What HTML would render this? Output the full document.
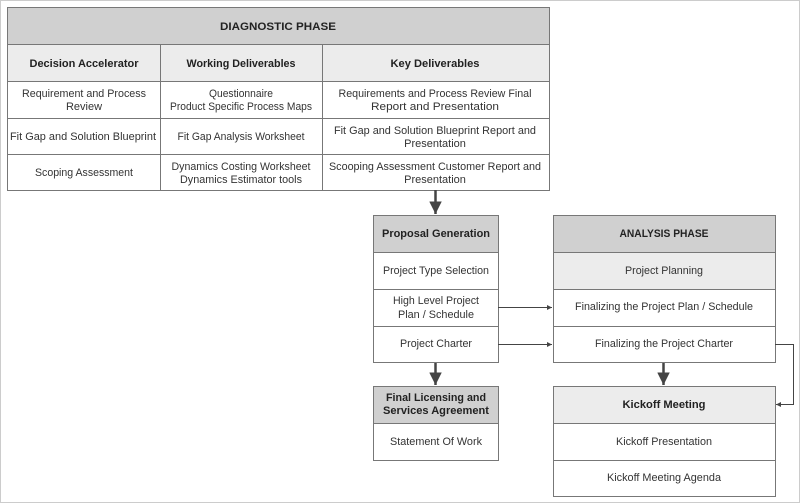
<!DOCTYPE html>
<html><head><style>
html,body{margin:0;padding:0;background:#fff}
svg{display:block}
text{font-family:"Liberation Sans",sans-serif;font-size:11px;fill:#333;text-anchor:middle}
.b{font-weight:bold;fill:#222}
</style></head><body>
<svg width="800" height="503" viewBox="0 0 800 503">
<defs><marker id="a" viewBox="0 0 10 10" refX="10" refY="5" markerWidth="5" markerHeight="5" orient="auto"><path d="M0,0L10,5L0,10z" fill="#444"/></marker></defs>
<rect x="0.5" y="0.5" width="799" height="502" fill="none" stroke="#999" stroke-dasharray="1,1"/>
<g stroke="#777" stroke-width="1">
<rect x="7.5" y="7.5" width="542" height="37" fill="#d0d0d0"/>
<rect x="7.5" y="44.5" width="542" height="37" fill="#ececec"/>
<rect x="7.5" y="81.5" width="542" height="109" fill="#fff"/>
<line x1="7" y1="118.5" x2="549" y2="118.5"/><line x1="7" y1="154.5" x2="549" y2="154.5"/>
<line x1="160.5" y1="44" x2="160.5" y2="190"/><line x1="322.5" y1="44" x2="322.5" y2="190"/>
<rect x="373.5" y="215.5" width="125" height="37" fill="#d0d0d0"/>
<rect x="373.5" y="252.5" width="125" height="110" fill="#fff"/>
<line x1="373" y1="289.5" x2="498" y2="289.5"/><line x1="373" y1="326.5" x2="498" y2="326.5"/>
<rect x="373.5" y="386.5" width="125" height="37" fill="#d0d0d0"/>
<rect x="373.5" y="423.5" width="125" height="37" fill="#fff"/>
<rect x="553.5" y="215.5" width="222" height="37" fill="#d0d0d0"/>
<rect x="553.5" y="252.5" width="222" height="37" fill="#ececec"/>
<rect x="553.5" y="289.5" width="222" height="73" fill="#fff"/>
<line x1="553" y1="326.5" x2="775" y2="326.5"/>
<rect x="553.5" y="386.5" width="222" height="37" fill="#ececec"/>
<rect x="553.5" y="423.5" width="222" height="73" fill="#fff"/>
<line x1="553" y1="460.5" x2="775" y2="460.5"/>
</g>
<g stroke="#444" fill="none">
<line x1="435.5" y1="190" x2="435.5" y2="214" stroke-width="2.5" marker-end="url(#a)"/>
<line x1="435.5" y1="363" x2="435.5" y2="385" stroke-width="2.5" marker-end="url(#a)"/>
<line x1="663.5" y1="363" x2="663.5" y2="385" stroke-width="2.5" marker-end="url(#a)"/>
<line x1="498" y1="307.5" x2="552" y2="307.5" stroke-width="1" marker-end="url(#a)"/>
<line x1="498" y1="344.5" x2="552" y2="344.5" stroke-width="1" marker-end="url(#a)"/>
<polyline points="775,344.5 793.5,344.5 793.5,404.5 776,404.5" stroke-width="1" marker-end="url(#a)"/>
</g>
<text x="278" y="30" class="b" textLength="116" lengthAdjust="spacingAndGlyphs">DIAGNOSTIC PHASE</text>
<text x="84" y="67" class="b" textLength="109" lengthAdjust="spacingAndGlyphs">Decision Accelerator</text>
<text x="241" y="67" class="b" textLength="109" lengthAdjust="spacingAndGlyphs">Working Deliverables</text>
<text x="435" y="67" class="b" textLength="89" lengthAdjust="spacingAndGlyphs">Key Deliverables</text>
<text x="84" y="97" textLength="124" lengthAdjust="spacingAndGlyphs">Requirement and Process</text><text x="84" y="110">Review</text>
<text x="241" y="97" textLength="64" lengthAdjust="spacingAndGlyphs">Questionnaire</text><text x="241" y="110" textLength="142" lengthAdjust="spacingAndGlyphs">Product Specific Process Maps</text>
<text x="435" y="97" textLength="193" lengthAdjust="spacingAndGlyphs">Requirements and Process Review Final</text><text x="435" y="110" textLength="128" lengthAdjust="spacingAndGlyphs">Report and Presentation</text>
<text x="83" y="140" textLength="146" lengthAdjust="spacingAndGlyphs">Fit Gap and Solution Blueprint</text>
<text x="241" y="140" textLength="127" lengthAdjust="spacingAndGlyphs">Fit Gap Analysis Worksheet</text>
<text x="435" y="134" textLength="202" lengthAdjust="spacingAndGlyphs">Fit Gap and Solution Blueprint Report and</text><text x="435" y="147">Presentation</text>
<text x="84" y="176" textLength="98" lengthAdjust="spacingAndGlyphs">Scoping Assessment</text>
<text x="241" y="170" textLength="139" lengthAdjust="spacingAndGlyphs">Dynamics Costing Worksheet</text><text x="241" y="183" textLength="122" lengthAdjust="spacingAndGlyphs">Dynamics Estimator tools</text>
<text x="435" y="170" textLength="212" lengthAdjust="spacingAndGlyphs">Scooping Assessment Customer Report and</text><text x="435" y="183">Presentation</text>

<text x="436" y="237" class="b" textLength="108" lengthAdjust="spacingAndGlyphs">Proposal Generation</text>
<text x="436" y="274" textLength="106" lengthAdjust="spacingAndGlyphs">Project Type Selection</text>
<text x="436" y="304" textLength="86" lengthAdjust="spacingAndGlyphs">High Level Project</text><text x="436" y="318" textLength="76" lengthAdjust="spacingAndGlyphs">Plan / Schedule</text>
<text x="436" y="347" textLength="72" lengthAdjust="spacingAndGlyphs">Project Charter</text>
<text x="436" y="401" class="b" textLength="100" lengthAdjust="spacingAndGlyphs">Final Licensing and</text><text x="436" y="414" class="b" textLength="106" lengthAdjust="spacingAndGlyphs">Services Agreement</text>
<text x="436" y="445" textLength="92" lengthAdjust="spacingAndGlyphs">Statement Of Work</text>

<text x="664" y="237" class="b" textLength="89" lengthAdjust="spacingAndGlyphs">ANALYSIS PHASE</text>
<text x="664" y="274" textLength="78" lengthAdjust="spacingAndGlyphs">Project Planning</text>
<text x="664" y="310" textLength="178" lengthAdjust="spacingAndGlyphs">Finalizing the Project Plan / Schedule</text>
<text x="664" y="347" textLength="138" lengthAdjust="spacingAndGlyphs">Finalizing the Project Charter</text>
<text x="664" y="408" class="b" textLength="83" lengthAdjust="spacingAndGlyphs">Kickoff Meeting</text>
<text x="664" y="445" textLength="96" lengthAdjust="spacingAndGlyphs">Kickoff Presentation</text>
<text x="664" y="481" textLength="114" lengthAdjust="spacingAndGlyphs">Kickoff Meeting Agenda</text>
</svg>
</body></html>
